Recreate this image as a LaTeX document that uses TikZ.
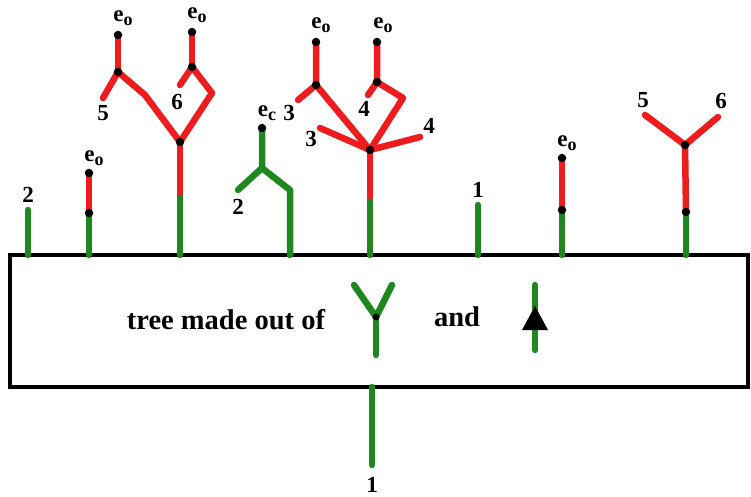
\documentclass[tikz,border=0pt]{standalone}
\usepackage{fontspec}
\setmainfont{Liberation Serif}
\definecolor{tg}{RGB}{30,135,30}
\definecolor{tr}{RGB}{238,28,28}
\newcommand{\esub}[1]{e\raisebox{-0.4ex}{\fontsize{18}{18}\selectfont #1}}
\begin{document}
\begin{tikzpicture}[x=1pt,y=-1pt,
 gline/.style={draw=tg,line width=6.5pt,line cap=round,line join=round},
 rline/.style={draw=tr,line width=6.5pt,line cap=round,line join=round},
 vdot/.style={circle,fill=black,inner sep=0pt,minimum size=8.5pt},
 lab/.style={font=\bfseries\fontsize{23}{25}\selectfont,inner sep=0pt},
 big/.style={font=\bfseries\fontsize{28.5}{31}\selectfont,inner sep=0pt}]
\useasboundingbox (0,0) rectangle (751,497);
% box
\node[draw,line width=4pt,minimum width=738pt,minimum height=132pt,inner sep=0pt] (box) at (379,321) {};
% tree 1
\coordinate (a0) at (28,255); \coordinate (a1) at (28,210);
\draw[gline] (a0) -- (a1);
\node[lab] (la) at (28,195) {2};
% tree 2
\coordinate (b0) at (89,255); \coordinate (b1) at (89,213); \coordinate (b2) at (89,173);
\draw[gline] (b0) -- (b1);
\draw[rline] (b1) -- (b2);
\node[vdot] at (b1) {}; \node[vdot] at (b2) {};
\node[lab] (lb) at (94,158) {\esub{o}};
% tree 3
\coordinate (c0) at (180,255); \coordinate (cm) at (180,193); \coordinate (c1) at (180,142);
\coordinate (cl1) at (145,95); \coordinate (cl) at (118,72); \coordinate (clt) at (118,35); \coordinate (cll) at (103,98);
\coordinate (cr1) at (212,93); \coordinate (cr) at (192,67); \coordinate (crt) at (192,32); \coordinate (crl) at (180,85);
\draw[gline] (c0) -- (cm);
\draw[rline] (cm) -- (c1);
\draw[rline] (c1) -- (cl1) -- (cl); \draw[rline] (cl) -- (clt); \draw[rline] (cl) -- (cll);
\draw[rline] (c1) -- (cr1) -- (cr); \draw[rline] (cr) -- (crt); \draw[rline] (cr) -- (crl);
\foreach \p in {c1,cl,clt,cr,crt} \node[vdot] at (\p) {};
\node[lab] at (103,113) {5};
\node[lab] at (177,102) {6};
\node[lab] at (123,18) {\esub{o}};
\node[lab] at (197,15) {\esub{o}};
% tree 4
\coordinate (d0) at (290,255); \coordinate (d1) at (290,190); \coordinate (d2) at (262,168);
\coordinate (dt) at (262,128); \coordinate (dl) at (238,190);
\draw[gline] (d0) -- (d1) -- (d2) -- (dt);
\draw[gline] (d2) -- (dl);
\node[vdot] at (dt) {};
\node[lab] at (238,207) {2};
\node[lab] at (267,113) {\esub{c}};
% tree 5
\coordinate (e0) at (370,255); \coordinate (em) at (370,197); \coordinate (e1) at (370,150);
\coordinate (el) at (316,85); \coordinate (elt) at (316,42); \coordinate (ell) at (298,100);
\coordinate (eml) at (320,128);
\coordinate (er1) at (403,98); \coordinate (er) at (377,82); \coordinate (ert) at (377,42); \coordinate (erl) at (368,95);
\coordinate (emr) at (420,137);
\draw[gline] (e0) -- (em);
\draw[rline] (em) -- (e1);
\draw[rline] (e1) -- (el) -- (elt); \draw[rline] (el) -- (ell);
\draw[rline] (e1) -- (eml);
\draw[rline] (e1) -- (er1) -- (er) -- (ert); \draw[rline] (er) -- (erl);
\draw[rline] (e1) -- (emr);
\foreach \p in {e1,el,elt,er,ert} \node[vdot] at (\p) {};
\node[lab] at (289,113) {3};
\node[lab] at (311,139) {3};
\node[lab] at (364,109) {4};
\node[lab] at (429,126) {4};
\node[lab] at (321,25) {\esub{o}};
\node[lab] at (383,25) {\esub{o}};
% tree 6
\coordinate (f0) at (478,255); \coordinate (f1) at (478,205);
\draw[gline] (f0) -- (f1);
\node[lab] at (478,190) {1};
% tree 7
\coordinate (g0) at (562,255); \coordinate (g1) at (562,210); \coordinate (g2) at (562,158);
\draw[gline] (g0) -- (g1);
\draw[rline] (g1) -- (g2);
\node[vdot] at (g1) {}; \node[vdot] at (g2) {};
\node[lab] at (567,143) {\esub{o}};
% tree 8
\coordinate (h0) at (686,255); \coordinate (h1) at (686,212); \coordinate (h2) at (685,145);
\coordinate (hl) at (645,115); \coordinate (hr) at (718,117);
\draw[gline] (h0) -- (h1);
\draw[rline] (h1) -- (h2) -- (hl); \draw[rline] (h2) -- (hr);
\node[vdot] at (h1) {}; \node[vdot] at (h2) {};
\node[lab] at (643,100) {5};
\node[lab] at (721,101) {6};
% root
\coordinate (r0) at (372,387); \coordinate (r1) at (372,465);
\draw[gline] (r0) -- (r1);
\node[lab] at (372,485) {1};
% inside legend
\node[big] (t1) at (226,320) {tree made out of};
\coordinate (y0) at (376,317); \coordinate (yl) at (354,285); \coordinate (yr) at (392,285); \coordinate (yb) at (376,355);
\draw[gline] (yl) -- (y0) -- (yr); \draw[gline] (y0) -- (yb);
\node[circle,fill=black,inner sep=0pt,minimum size=7pt] at (y0) {};
\node[big] (t2) at (457,317) {and};
\coordinate (z0) at (535,285); \coordinate (z1) at (535,350);
\draw[gline] (z0) -- (z1);
\fill (535,306) -- (522,330) -- (548,330) -- cycle;
\end{tikzpicture}
\end{document}
